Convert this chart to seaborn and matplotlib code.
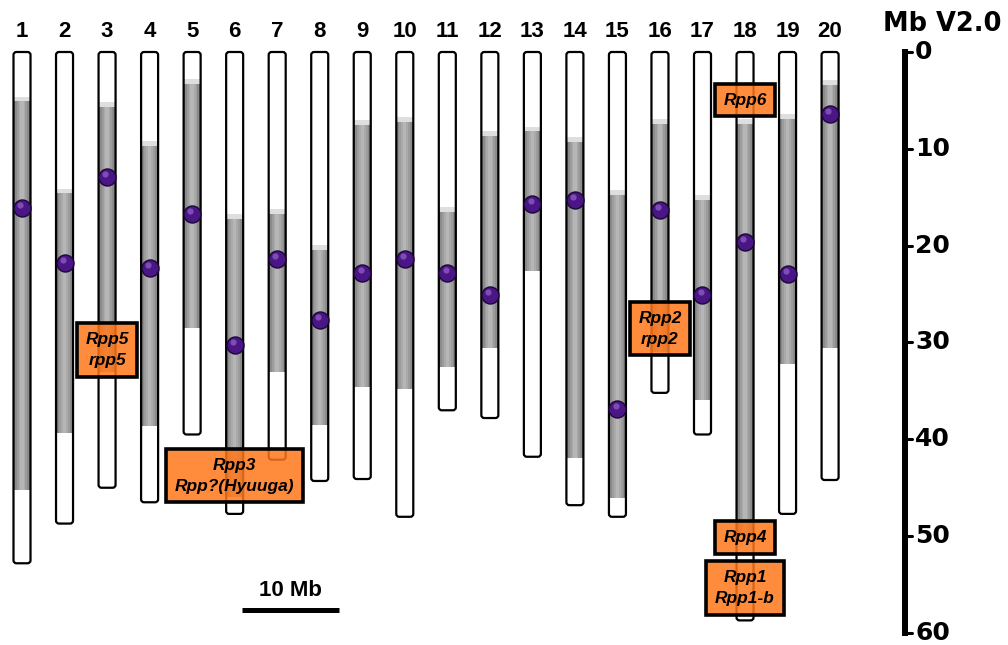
import numpy as np
import matplotlib
matplotlib.use("Agg")
import matplotlib.pyplot as plt
import seaborn as sns
from matplotlib.patches import FancyBboxPatch

# perustyyli ensin, fontit ja värit vasta sen jälkeen
sns.set_style("white")
plt.rcParams["font.family"] = ["Liberation Sans", "DejaVu Sans"]
plt.rcParams["text.color"] = "black"

# --- data (Mb, V2.0) ---
chrom = list(range(1, 21))
chrom_len = [52.8, 48.7, 45.0, 46.5, 39.5, 47.7, 42.1, 44.3, 44.1, 48.0,
             37.0, 37.8, 41.8, 46.8, 48.0, 35.2, 39.5, 58.7, 47.7, 44.2]
peri_start = [5.1, 14.6, 5.7, 9.7, 3.3, 17.2, 16.7, 20.4, 7.5, 7.2,
              16.5, 8.7, 8.2, 9.3, 14.8, 7.4, 15.3, 7.4, 6.9, 3.4]
peri_end = [45.2, 39.3, 33.0, 38.6, 28.5, 46.0, 33.0, 38.5, 34.6, 34.8,
            32.5, 30.6, 22.6, 41.9, 46.1, 31.0, 35.9, 50.0, 32.2, 30.6]
centromere = [16.1, 21.8, 12.9, 22.3, 16.7, 30.3, 21.4, 27.7, 22.8, 21.4,
              22.8, 25.1, 15.7, 15.3, 36.9, 16.3, 25.1, 19.6, 22.9, 6.4]

locus_text = ["Rpp6", "Rpp5\nrpp5", "Rpp3\nRpp?(Hyuuga)", "Rpp2\nrpp2",
              "Rpp4", "Rpp1\nRpp1-b"]
locus_chrom = [18, 3, 6, 16, 18, 18]
locus_mb = [4.96, 30.78, 43.74, 28.56, 50.14, 55.36]

mb_ticks = [0, 10, 20, 30, 40, 50, 60]
scale_bar_mb = 10

# --- kuva ---
W, H = 1008, 645
fig = plt.figure(figsize=(W / 100, H / 100), dpi=100)
ax = fig.add_axes([0, 0, 1, 1])

xlim = (0.4827, 24.183)
ylim = (61.24, -5.37)
px_x = W / (xlim[1] - xlim[0])      # pikseliä per kromosomiväli
px_mb = H / (ylim[0] - ylim[1])     # pikseliä per Mb
aspect = px_x / px_mb
cw = 0.40                            # kromosomin leveys

# valkoinen runko
sns.barplot(x=chrom, y=chrom_len, native_scale=True, width=cw, color="white",
            saturation=1, errorbar=None, linewidth=0, ax=ax, zorder=1)

# harmaa (perisentromeerinen) alue, sylinterimäinen varjostus
peri_len = np.subtract(peri_end, peri_start)
for w, c in zip([cw, 0.33, 0.25, 0.16, 0.08],
                ["#7a7a7a", "#8b8b8b", "#9c9c9c", "#aaaaaa", "#b6b6b6"]):
    ax.bar(chrom, peri_len, bottom=peri_start, width=w, color=c,
           linewidth=0, zorder=2)
# vaalea siirtymäkaista juuri harmaan yläpuolella
ax.bar(chrom, 0.5, bottom=np.subtract(peri_start, 0.5), width=cw,
       color="#dedede", linewidth=0, zorder=2)

# ääriviivat pyöristetyin kulmin
for c, L in zip(chrom, chrom_len):
    ax.add_patch(FancyBboxPatch((c - cw / 2, 0), cw, L,
                                boxstyle="round,pad=0,rounding_size=0.07",
                                mutation_aspect=aspect, fc="none",
                                ec="black", lw=1.6, zorder=3))

# sentromeerit
sns.scatterplot(x=chrom, y=centromere, s=150, color="#4a1585",
                edgecolor="#1c0638", linewidth=1.0, zorder=4, ax=ax,
                legend=False)
sns.scatterplot(x=np.array(chrom) - 0.04, y=np.array(centromere) - 0.3,
                s=20, color="#8a5cc0", linewidth=0, alpha=0.8, zorder=5,
                ax=ax, legend=False)

# Rpp-lokukset
for txt, c, mb in zip(locus_text, locus_chrom, locus_mb):
    ax.text(c, mb, txt, ha="center", va="center", fontsize=12.5,
            style="italic", fontweight="bold", linespacing=1.5, zorder=6,
            bbox=dict(boxstyle="square,pad=0.5", fc=(1.0, 0.47, 0.1, 0.85),
                      ec="black", lw=2.6))

# kromosominumerot
for c in chrom:
    ax.text(c, -2.07, str(c), ha="center", va="center", fontsize=16,
            fontweight="bold")

# Mb-asteikko oikealla
x_ax = 1 + (905 - 22) / px_x
ax.plot([x_ax, x_ax], [0, 60], color="black", lw=4.3,
        solid_capstyle="projecting")
for t in mb_ticks:
    ax.plot([x_ax, x_ax + 7 / px_x], [t, t], color="black", lw=2.2)
    ax.text(x_ax + 10 / px_x, t, str(t), ha="left", va="center",
            fontsize=18, fontweight="bold", family="DejaVu Sans")
ax.text(1 + (942 - 22) / px_x, -2.85, "Mb V2.0", ha="center", va="center",
        fontsize=18.5, fontweight="bold", family="DejaVu Sans")

# 10 Mb mittajana
x0 = 1 + (242 - 22) / px_x
bar_len = scale_bar_mb * px_mb / px_x
ax.plot([x0, x0 + bar_len], [57.63, 57.63], color="black", lw=3.6,
        solid_capstyle="butt")
ax.text(x0 + bar_len / 2, 55.6, f"{scale_bar_mb} Mb", ha="center",
        va="center", fontsize=16, fontweight="bold")

ax.set_xlim(*xlim)
ax.set_ylim(*ylim)
ax.axis("off")

fig.savefig("out.png", dpi=100)
